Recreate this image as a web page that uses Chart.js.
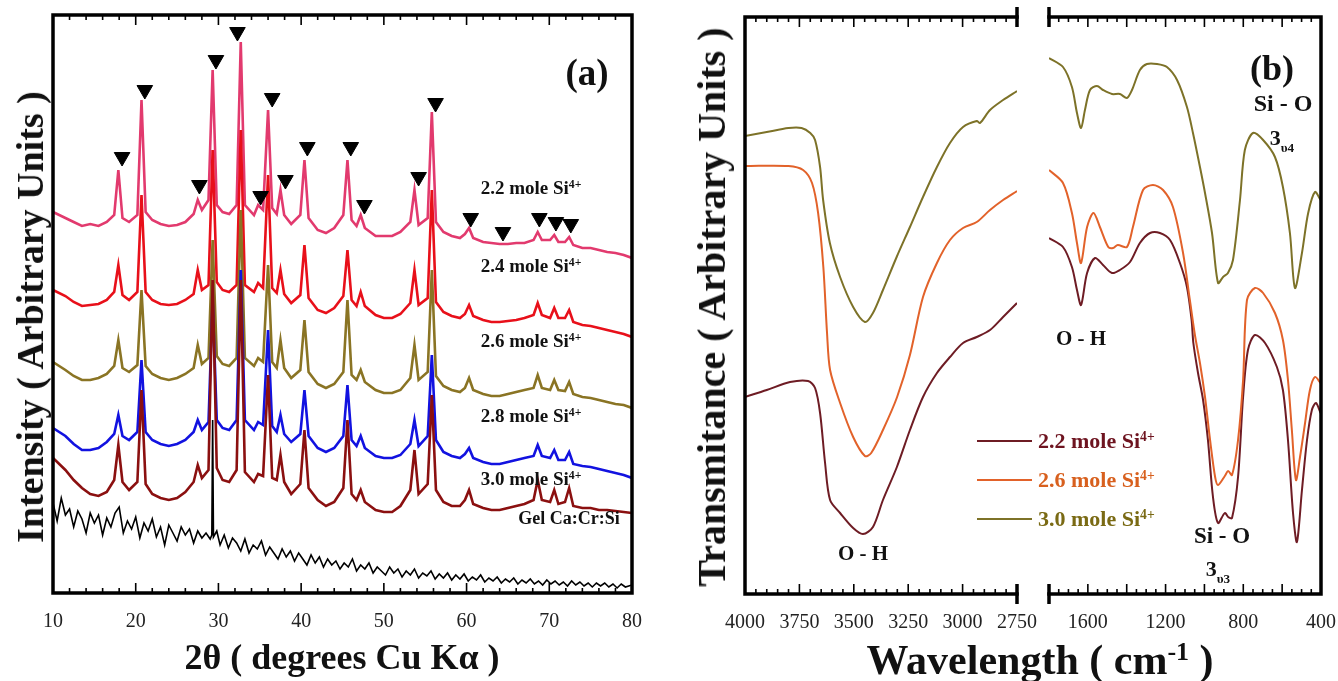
<!DOCTYPE html>
<html>
<head>
<meta charset="utf-8">
<script src="https://cdn.jsdelivr.net/npm/chart.js@4.4.0/dist/chart.umd.min.js"></script>
<style>
  body { margin:0; background:#fff; width:1338px; height:681px; overflow:hidden; position:relative;
         font-family:'Liberation Serif','Times New Roman',serif; }
  canvas { position:absolute; top:0; }
  .t  { position:absolute; transform:translate(-50%,-50%); white-space:nowrap; font-weight:bold; color:#111; line-height:1; }
  .rot{ transform:translate(-50%,-50%) rotate(-90deg); }
  .sp { font-size:0.62em; position:relative; top:-0.55em; }
  .sb { font-size:0.6em; position:relative; top:0.5em; }
  .lg { position:absolute; height:2px; width:55px; left:977px; }
  .lt { position:absolute; left:1038px; transform:translateY(-50%); font-weight:bold; font-size:22px; white-space:nowrap; line-height:1; }
</style>
</head>
<body>

<canvas id="xrd"   width="660" height="681" style="left:0"></canvas>
<canvas id="irHi"  width="350" height="681" style="left:690px"></canvas>
<canvas id="irLo"  width="298" height="681" style="left:1040px"></canvas>

<!-- panel (a) texts -->
<div class="t rot" style="left:30px;top:317px;font-size:38px">Intensity ( Arbitrary Units )</div>
<div class="t" style="left:342px;top:657px;font-size:36px">2θ ( degrees Cu Kα )</div>
<div class="t" style="left:587px;top:72px;font-size:37px">(a)</div>
<div class="t" style="left:531px;top:187px;font-size:19px">2.2 mole Si<span class="sp">4+</span></div>
<div class="t" style="left:531px;top:265px;font-size:19px">2.4 mole Si<span class="sp">4+</span></div>
<div class="t" style="left:531px;top:340px;font-size:19px">2.6 mole Si<span class="sp">4+</span></div>
<div class="t" style="left:531px;top:415px;font-size:19px">2.8 mole Si<span class="sp">4+</span></div>
<div class="t" style="left:531px;top:478px;font-size:19px">3.0 mole Si<span class="sp">4+</span></div>
<div class="t" style="left:569px;top:518px;font-size:18px">Gel Ca:Cr:Si</div>

<!-- panel (b) texts -->
<div class="t rot" style="left:712px;top:307px;font-size:40px">Transmitance ( Arbitrary Units )</div>
<div class="t" style="left:1040px;top:660px;font-size:42px">Wavelength ( cm<span class="sp">-1</span> )</div>
<div class="t" style="left:1272px;top:68px;font-size:36px">(b)</div>
<div class="t" style="left:1283px;top:103px;font-size:24px">Si - O</div>
<div class="t" style="left:1282px;top:138px;font-size:22px">3<span class="sb">υ4</span></div>
<div class="t" style="left:1081px;top:338px;font-size:21px">O - H</div>
<div class="t" style="left:863px;top:553px;font-size:21px">O - H</div>
<div class="t" style="left:1222px;top:535px;font-size:23px">Si - O</div>
<div class="t" style="left:1218px;top:569px;font-size:22px">3<span class="sb">υ3</span></div>

<div class="lg" style="top:440px;background:#6e1c24"></div>
<div class="lg" style="top:479px;background:#e2622a"></div>
<div class="lg" style="top:518px;background:#7d7228"></div>
<div class="lt" style="top:441px;color:#6e1420">2.2 mole Si<span class="sp">4+</span></div>
<div class="lt" style="top:480px;color:#d8601e">2.6 mole Si<span class="sp">4+</span></div>
<div class="lt" style="top:519px;color:#7a6a14">3.0 mole Si<span class="sp">4+</span></div>

<script>
/* ── XRD (a): common 2θ grid for the five sintered samples ── */
const twoTheta = [
  10.0, 11.5, 12.5, 13.5, 14.5, 15.5, 16.5, 17.4, 17.9, 18.4,
  19.2, 20.2, 20.7, 21.2, 22.0, 23.0, 24.0, 25.0, 26.0, 27.0,
  27.5, 28.0, 28.8, 29.3, 29.8, 30.5, 31.3, 32.2, 32.7, 33.2,
  34.3, 34.8, 35.4, 36.0, 36.5, 37.05, 37.5, 37.95, 38.8, 39.9,
  40.4, 40.9, 42.0, 43.0, 44.0, 45.1, 45.6, 46.1, 46.7, 47.2,
  47.7, 49.0, 50.0, 51.0, 52.0, 53.2, 53.7, 54.2, 55.3, 55.8,
  56.3, 57.2, 58.2, 59.2, 59.8, 60.3, 60.8, 62.0, 63.0, 64.0,
  65.0, 66.0, 67.0, 68.1, 68.6, 69.1, 70.1, 70.6, 71.1, 71.9,
  72.4, 72.9, 74.0, 75.0, 76.0, 77.0, 78.0, 79.0, 80.0
];

const xrd22 = [
  381, 375, 371, 367, 369, 367, 371, 378, 423, 375,
  371, 378, 493, 381, 373, 369, 367, 368, 371, 379,
  393, 383, 393, 523, 388, 381, 379, 388, 551, 388,
  378, 388, 383, 483, 385, 379, 403, 378, 369, 378,
  433, 375, 363, 360, 365, 378, 433, 373, 367, 378,
  365, 357, 357, 357, 361, 371, 403, 368, 375, 481,
  371, 361, 357, 355, 359, 365, 355, 351, 350, 349,
  349, 350, 350, 353, 361, 353, 353, 358, 351, 351,
  356, 348, 345, 345, 343, 341, 340, 338, 335
];

const xrd24 = [
  303, 297, 291, 287, 288, 289, 293, 301, 328, 298,
  293, 301, 398, 301, 293, 289, 288, 289, 293, 299,
  323, 303, 308, 443, 311, 303, 301, 308, 463, 308,
  301, 310, 305, 418, 305, 300, 323, 299, 290, 298,
  348, 295, 283, 280, 285, 297, 343, 293, 287, 301,
  287, 278, 275, 275, 279, 290, 323, 288, 295, 403,
  291, 281, 277, 275, 279, 288, 277, 273, 271, 271,
  272, 273, 275, 278, 290, 278, 275, 285, 275, 275,
  283, 271, 268, 267, 265, 263, 261, 259, 256
];

const xrd26 = [
  231, 223, 217, 213, 213, 215, 219, 227, 253, 225,
  221, 228, 303, 227, 219, 215, 213, 215, 219, 225,
  248, 229, 235, 353, 237, 229, 227, 235, 383, 235,
  227, 235, 231, 328, 231, 225, 253, 225, 215, 223,
  273, 221, 209, 205, 209, 221, 293, 218, 213, 223,
  211, 203, 200, 200, 203, 215, 248, 213, 221, 323,
  217, 207, 203, 201, 205, 215, 203, 199, 197, 197,
  199, 201, 203, 205, 218, 205, 203, 213, 203, 202,
  211, 199, 196, 195, 193, 191, 189, 188, 185
];

const xrd28 = [
  165, 157, 149, 143, 143, 145, 151, 159, 178, 157,
  153, 161, 233, 161, 153, 149, 147, 149, 153, 161,
  173, 163, 171, 293, 173, 165, 163, 173, 323, 173,
  163, 171, 168, 263, 167, 161, 178, 159, 151, 159,
  203, 157, 145, 141, 145, 157, 208, 153, 147, 157,
  145, 137, 135, 135, 138, 149, 173, 147, 157, 238,
  153, 141, 137, 135, 139, 145, 135, 131, 129, 129,
  131, 133, 135, 137, 148, 137, 135, 143, 133, 133,
  141, 129, 127, 126, 124, 122, 120, 118, 115
];

const xrd30 = [
  135, 123, 113, 105,  99,  97, 101, 113, 148, 111,
  103, 111, 203, 109,  99,  95,  93,  95, 101, 111,
  128, 115, 123, 313, 125, 113, 111, 123, 313, 121,
  111, 119, 117, 218, 115, 113, 138, 111,  99, 109,
  163, 105,  93,  87,  91, 105, 173,  99,  93, 103,
   91,  83,  81,  81,  87, 103, 143,  99, 109, 198,
  103,  91,  87,  87,  93, 103,  89,  85,  83,  83,
   85,  87,  89,  93, 113,  93,  91, 103,  89,  91,
  105,  87,  85,  85,  83,  83,  82,  81,  80
];

/* gel precursor: amorphous, own grid */
const gelTheta = [
  10.0, 10.5, 11.0, 11.5, 12.0, 12.5, 13.0, 13.5, 14.0, 14.5,
  15.0, 15.5, 16.0, 16.5, 17.0, 17.5, 18.0, 18.5, 19.0, 19.5,
  20.0, 20.5, 21.0, 21.5, 22.0, 22.5, 23.0, 23.5, 24.0, 24.5,
  25.0, 25.5, 26.0, 26.5, 27.0, 27.5, 28.0, 28.5, 29.0, 29.2,
  29.3, 29.4, 29.8, 30.2, 30.7, 31.2, 31.7, 32.2, 32.7, 33.2,
  33.7, 34.2, 34.7, 35.2, 35.7, 36.2, 36.7, 37.2, 37.7, 38.2,
  38.7, 39.2, 39.7, 40.2, 40.7, 41.2, 41.7, 42.2, 42.7, 43.2,
  43.7, 44.2, 44.7, 45.2, 45.7, 46.2, 46.7, 47.2, 47.7, 48.2,
  48.7, 49.2, 49.7, 50.2, 50.7, 51.2, 51.7, 52.2, 52.7, 53.2,
  53.7, 54.2, 54.7, 55.2, 55.7, 56.2, 56.7, 57.2, 57.7, 58.2,
  58.7, 59.2, 59.7, 60.2, 60.7, 61.2, 61.7, 62.2, 62.7, 63.2,
  63.7, 64.2, 64.7, 65.2, 65.7, 66.2, 66.7, 67.2, 67.7, 68.2,
  68.7, 69.2, 69.7, 70.2, 70.7, 71.2, 71.7, 72.2, 72.7, 73.2,
  73.7, 74.2, 74.7, 75.2, 75.7, 76.2, 76.7, 77.2, 77.7, 78.2,
  78.7, 79.2, 80.0
];
const gelI = [
  90, 72, 95, 78, 84, 66, 82, 74, 60, 80,
  70, 78, 58, 75, 66, 80, 86, 60, 72, 64,
  76, 55, 70, 62, 74, 56, 66, 48, 68, 60,
  52, 66, 58, 64, 50, 62, 55, 60, 54, 58,
  173, 56, 62, 48, 58, 45, 55, 50, 42, 54,
  40, 48, 44, 52, 38, 46, 40, 34, 44, 36,
  42, 32, 40, 34, 28, 38, 30, 36, 26, 34,
  28, 32, 24, 30, 26, 34, 22, 28, 24, 30,
  20, 26, 22, 18, 26, 20, 24, 16, 22, 18,
  24, 15, 20, 17, 22, 14, 19, 15, 20, 13,
  18, 14, 19, 12, 16, 13, 18, 11, 15, 12,
  16, 10, 14, 11, 15,  9, 13, 10, 14,  9,
  12,  8, 13,  9, 12,  8, 11,  7, 12,  8,
  11,  7, 10,  6, 10,  7, 10,  6,  9,  5,
   9,  6,  8
];

/* ▼ phase markers */
const markTheta = [18.35, 21.1, 27.7, 29.7, 32.3, 35.1, 36.5, 38.1, 40.75, 46.0, 47.65, 54.2, 56.25, 60.5, 64.4, 68.8, 70.8, 72.6];
const markI     = [436, 503, 408, 533, 561, 397, 495, 413, 446, 446, 388, 416, 490, 375, 361, 375, 371, 369];

const xrdTicks = [10, 20, 30, 40, 50, 60, 70, 80];

/* ── FTIR (b): high wavenumber segment ── */
const ir30HiWn = [4000, 3900, 3800, 3740, 3700, 3678, 3655, 3641, 3610, 3563, 3503, 3449, 3412, 3366, 3303, 3242, 3182, 3118, 3058, 2998, 2935, 2920, 2874, 2814, 2750];
const ir30HiT  = [458, 462, 466, 466, 461, 454, 427, 394, 351, 317, 287, 272, 281, 304, 337, 367, 397, 427, 451, 467, 473, 471, 484, 494, 503];
const ir26HiWn = [4000, 3800, 3733, 3692, 3664, 3640, 3623, 3609, 3563, 3503, 3449, 3420, 3366, 3301, 3242, 3182, 3118, 3058, 2998, 2935, 2874, 2814, 2750];
const ir26HiT  = [428, 428, 424, 411, 381, 327, 261, 224, 191, 157, 138, 141, 164, 197, 239, 297, 331, 354, 366, 372, 384, 394, 403];
const ir22HiWn = [4000, 3900, 3793, 3710, 3678, 3655, 3632, 3609, 3563, 3503, 3458, 3412, 3366, 3302, 3242, 3182, 3118, 3058, 2998, 2935, 2874, 2814, 2750];
const ir22HiT  = [197, 204, 212, 213, 206, 181, 131, 94, 81, 66, 60, 67, 94, 127, 164, 197, 221, 237, 251, 257, 264, 277, 291];

/* ── FTIR (b): fingerprint segment ── */
const ir30LoWn = [1800, 1728, 1682, 1656, 1635, 1615, 1589, 1553, 1522, 1476, 1435, 1399, 1373, 1332, 1296, 1244, 1193, 1141, 1090, 1059, 1023, 997, 961, 930, 904, 879, 853, 817, 792, 750, 698, 637, 596, 560, 534, 498, 466, 431, 402];
const ir30LoT  = [536, 527, 507, 481, 466, 484, 504, 508, 504, 500, 500, 496, 504, 524, 530, 530, 527, 514, 487, 461, 427, 401, 361, 311, 317, 321, 334, 394, 444, 461, 454, 437, 407, 361, 306, 341, 381, 402, 394];
const ir26LoWn = [1800, 1728, 1682, 1656, 1635, 1604, 1571, 1538, 1495, 1470, 1446, 1399, 1368, 1316, 1265, 1213, 1162, 1110, 1075, 1049, 1023, 997, 971, 945, 930, 895, 878, 858, 827, 801, 781, 740, 698, 637, 596, 570, 550, 529, 508, 482, 457, 431, 402];
const ir26LoT  = [424, 411, 381, 351, 331, 367, 381, 367, 347, 346, 349, 347, 367, 404, 409, 404, 387, 341, 294, 259, 231, 197, 154, 117, 109, 118, 123, 119, 154, 214, 294, 306, 301, 281, 254, 214, 164, 114, 137, 171, 204, 217, 211];
const ir22LoWn = [1800, 1728, 1682, 1656, 1635, 1604, 1563, 1522, 1476, 1435, 1383, 1332, 1280, 1229, 1177, 1126, 1090, 1066, 1057, 1033, 1007, 982, 956, 930, 895, 878, 858, 827, 801, 776, 740, 688, 627, 596, 570, 544, 524, 498, 472, 447, 426, 402];
const ir22LoT  = [356, 347, 327, 304, 289, 321, 336, 329, 321, 324, 332, 351, 361, 361, 354, 331, 307, 274, 251, 221, 194, 154, 97, 71, 81, 77, 76, 117, 197, 244, 259, 251, 227, 204, 154, 81, 52, 104, 154, 184, 191, 181];

const irHiTicks = [4000, 3750, 3500, 3250, 3000, 2750];
const irLoTicks = [1600, 1200, 800, 400];

const SERIF = "'Liberation Serif', 'Times New Roman', serif";

function pts(xs, ys) { return xs.map((x, i) => ({ x, y: ys[i] })); }

function line(label, xs, ys, color, width, tension) {
  return { label, data: pts(xs, ys), borderColor: color, borderWidth: width,
           pointRadius: 0, tension: tension || 0, fill: false };
}

/* ── inward ticks, frame and axis-break marks ── */
const framePlugin = {
  id: 'frame',
  afterDatasetsDraw(chart, args, o) {
    const { ctx, chartArea: a, scales: { x } } = chart;
    ctx.save();
    ctx.strokeStyle = '#000';
    ctx.lineWidth = 1.6;
    const every = o.major / o.minor;
    for (let i = 0; o.from + i * o.minor <= o.to + 1e-6; i++) {
      const px = x.getPixelForValue(o.from + i * o.minor);
      const len = i % every === 0 ? 10 : 5;
      ctx.beginPath();
      ctx.moveTo(px, a.bottom); ctx.lineTo(px, a.bottom - len);
      ctx.moveTo(px, a.top);    ctx.lineTo(px, a.top + len);
      ctx.stroke();
    }
    ctx.lineWidth = 3.5;
    ctx.lineCap = 'square';
    ctx.beginPath();
    ctx.moveTo(a.left, a.top);    ctx.lineTo(a.right, a.top);
    ctx.moveTo(a.left, a.bottom); ctx.lineTo(a.right, a.bottom);
    if (o.leftBorder)  { ctx.moveTo(a.left, a.top);  ctx.lineTo(a.left, a.bottom); }
    if (o.rightBorder) { ctx.moveTo(a.right, a.top); ctx.lineTo(a.right, a.bottom); }
    ctx.stroke();
    ctx.lineCap = 'butt';
    const brk = [];
    if (o.breakLeft)  brk.push(a.left);
    if (o.breakRight) brk.push(a.right);
    brk.forEach(bx => {
      ctx.beginPath();
      ctx.moveTo(bx, a.top - 10);    ctx.lineTo(bx, a.top + 10);
      ctx.moveTo(bx, a.bottom - 10); ctx.lineTo(bx, a.bottom + 10);
      ctx.stroke();
    });
    ctx.restore();
  }
};

function options(xMin, xMax, reverse, ticks, yMax, pad, axisH, frame) {
  return {
    responsive: false,
    animation: false,
    devicePixelRatio: 1,
    layout: { padding: pad },
    plugins: { legend: { display: false }, tooltip: { enabled: false }, frame },
    scales: {
      x: {
        type: 'linear', min: xMin, max: xMax, reverse,
        grid: { display: false, drawTicks: false },
        border: { display: false },
        ticks: { font: { family: SERIF, size: 20 }, color: '#222', padding: 17, maxRotation: 0, autoSkip: false,
                 callback: v => String(v) },
        afterBuildTicks: s => { s.ticks = ticks.map(v => ({ value: v })); },
        // fixed axis band; labels may overhang the plot edges
        afterFit: s => { s.height = axisH; s.paddingLeft = 0; s.paddingRight = 0; }
      },
      y: { display: false, min: 0, max: yMax }
    }
  };
}

/* ── (a) XRD ── */
new Chart(document.getElementById('xrd'), {
  type: 'line',
  data: {
    datasets: [
      { label: 'markers', type: 'scatter', data: pts(markTheta, markI), pointStyle: 'triangle',
        rotation: 180, pointRadius: 9, backgroundColor: '#000', borderColor: '#000', showLine: false },
      line('Gel Ca:Cr:Si', gelTheta, gelI, '#000000', 1.6),
      line('3.0 mole', twoTheta, xrd30, '#8b1010', 2.6),
      line('2.8 mole', twoTheta, xrd28, '#1212e0', 2.6),
      line('2.6 mole', twoTheta, xrd26, '#8a7424', 2.6),
      line('2.4 mole', twoTheta, xrd24, '#e8101a', 2.6),
      line('2.2 mole', twoTheta, xrd22, '#e23a6e', 2.6),
    ]
  },
  options: options(10, 80, false, xrdTicks, 578, { left: 53, right: 28, top: 15, bottom: 0 }, 88,
    { from: 10, to: 80, minor: 2, major: 10, leftBorder: true, rightBorder: true }),
  plugins: [framePlugin]
});

/* ── (b) FTIR, 4000–2750 ── */
new Chart(document.getElementById('irHi'), {
  type: 'line',
  data: {
    datasets: [
      line('3.0 mole', ir30HiWn, ir30HiT, '#7d7228', 2, 0.3),
      line('2.6 mole', ir26HiWn, ir26HiT, '#e2622a', 2, 0.3),
      line('2.2 mole', ir22HiWn, ir22HiT, '#6e1c24', 2, 0.3),
    ]
  },
  options: options(2750, 4000, true, irHiTicks, 577, { left: 55, right: 23, top: 17, bottom: 0 }, 87,
    { from: 2750, to: 4000, minor: 50, major: 250, leftBorder: true, breakRight: true }),
  plugins: [framePlugin]
});

/* ── (b) FTIR, 1800–400 ── */
new Chart(document.getElementById('irLo'), {
  type: 'line',
  data: {
    datasets: [
      line('3.0 mole', ir30LoWn, ir30LoT, '#7d7228', 2, 0.3),
      line('2.6 mole', ir26LoWn, ir26LoT, '#e2622a', 2, 0.3),
      line('2.2 mole', ir22LoWn, ir22LoT, '#6e1c24', 2, 0.3),
    ]
  },
  options: options(400, 1800, true, irLoTicks, 577, { left: 9, right: 17, top: 17, bottom: 0 }, 87,
    { from: 400, to: 1800, minor: 50, major: 200, rightBorder: true, breakLeft: true }),
  plugins: [framePlugin]
});
</script>
</body>
</html>
